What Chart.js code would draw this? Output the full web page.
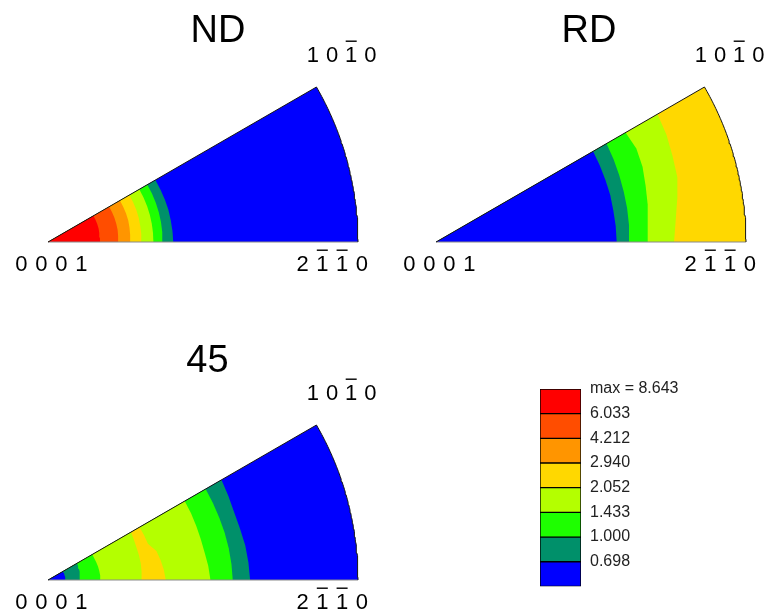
<!DOCTYPE html>
<html>
<head>
<meta charset="utf-8">
<title>Inverse pole figures</title>
<script src="https://cdn.jsdelivr.net/npm/chart.js@4.4.1/dist/chart.umd.min.js"></script>
<style>
  html, body { margin: 0; padding: 0; background: #fff; width: 767px; height: 611px; overflow: hidden; }
  canvas { position: absolute; }
</style>
</head>
<body>
<canvas id="ipfND" width="383" height="290" style="left:0px;top:0px"></canvas>
<canvas id="ipfRD" width="379" height="290" style="left:388px;top:0px"></canvas>
<canvas id="ipf45" width="383" height="290" style="left:0px;top:338px"></canvas>
<canvas id="scaleBar" width="247" height="235" style="left:520px;top:370px"></canvas>
<script>
// ---------------------------------------------------------------
// Data
// ---------------------------------------------------------------
// Density levels (multiples of random), lowest band first.
const levelLabels = ['0.698', '1.000', '1.433', '2.052', '2.940', '4.212', '6.033', 'max = 8.643'];

// Angles (deg, measured from the 2-1-10 edge) at which contour radii are sampled.
const sectorAngles = [0, 5, 10, 15, 20, 25, 30];

// Contour radii as fraction of the stereographic rim, outermost contour first.
// *InnerLevels: band index found inside each contour; *RimLevel: band at the rim.
const ndRimLevel = 0;
const ndInnerLevels = [1, 2, 3, 4, 5, 6, 7];
const ndContourRadii = [
  [0.404, 0.403, 0.402, 0.402, 0.401, 0.400, 0.400],
  [0.370, 0.370, 0.370, 0.370, 0.370, 0.370, 0.370],
  [0.340, 0.340, 0.340, 0.340, 0.340, 0.340, 0.340],
  [0.302, 0.302, 0.302, 0.303, 0.303, 0.303, 0.303],
  [0.265, 0.266, 0.267, 0.268, 0.268, 0.268, 0.268],
  [0.227, 0.227, 0.228, 0.228, 0.228, 0.228, 0.228],
  [0.168, 0.168, 0.168, 0.169, 0.169, 0.169, 0.169]
];

const rdRimLevel = 4;
const rdInnerLevels = [3, 2, 1, 0];
const rdContourRadii = [
  [0.768, 0.776, 0.790, 0.806, 0.812, 0.820, 0.825],
  [0.682, 0.686, 0.693, 0.700, 0.709, 0.713, 0.706],
  [0.625, 0.625, 0.626, 0.627, 0.629, 0.632, 0.635],
  [0.583, 0.582, 0.581, 0.582, 0.582, 0.583, 0.585]
];

const d45RimLevel = 0;
const d45InnerLevels = [1, 2, 3, 4, 3, 2, 1, 0];
const d45ContourRadii = [
  [0.652, 0.649, 0.646, 0.641, 0.639, 0.642, 0.646],
  [0.596, 0.594, 0.592, 0.590, 0.588, 0.587, 0.587],
  [0.524, 0.519, 0.513, 0.510, 0.509, 0.509, 0.509],
  [0.380, 0.375, 0.369, 0.362, 0.343, 0.342, 0.341],
  [0.303, 0.303, 0.304, 0.304, 0.304, 0.306, 0.309],
  [0.170, 0.169, 0.168, 0.167, 0.166, 0.165, 0.165],
  [0.102, 0.103, 0.104, 0.105, 0.106, 0.107, 0.108],
  [0.056, 0.056, 0.056, 0.056, 0.056, 0.056, 0.056]
];

const panelTitles = ['ND', 'RD', '45'];

// Miller-Bravais indices at the triangle corners; bars = positions carrying an overbar.
const poleBasal = { digits: ['0', '0', '0', '1'], bars: [] };
const poleA = { digits: ['2', '1', '1', '0'], bars: [1, 2] };
const poleM = { digits: ['1', '0', '1', '0'], bars: [2] };

// ---------------------------------------------------------------
// Styles and layout
// ---------------------------------------------------------------
const bandColors = ['#0000ff', '#00906a', '#1eff00', '#b4ff00', '#ffd800', '#ff9500', '#ff4d00', '#ff0000'];
const FONT = '"Liberation Sans", Arial, Helvetica, sans-serif';
const RIM_PX = 310;        // pixel radius of the 90° rim
const ORIGIN_PX = { x: 48, y: 242 };   // 0001 corner inside each panel canvas

// ---------------------------------------------------------------
// Geometry helpers
// ---------------------------------------------------------------
const toRad = d => d * Math.PI / 180;

function contourSector(radii) {
  const pts = [{ x: 0, y: 0 }];
  sectorAngles.forEach((a, i) => {
    pts.push({ x: radii[i] * Math.cos(toRad(a)), y: radii[i] * Math.sin(toRad(a)) });
  });
  pts.push({ x: 0, y: 0 });
  return pts;
}

function rimArc() {
  const pts = [];
  for (let a = 0; a <= 30.0001; a += 0.5) pts.push({ x: Math.cos(toRad(a)), y: Math.sin(toRad(a)) });
  return pts;
}

function fillDataset(points, level, order) {
  return {
    data: points,
    showLine: true,
    fill: 'shape',
    backgroundColor: bandColors[level],
    borderWidth: 0,
    borderColor: 'rgba(0,0,0,0)',
    pointRadius: 0,
    tension: 0,
    order: order
  };
}

function drawIndex(ctx, label, x0, baseline, pitch) {
  label.digits.forEach((d, i) => {
    const cx = x0 + i * pitch;
    ctx.fillText(d, cx, baseline);
    if (label.bars.includes(i)) {
      ctx.fillRect(cx - 5.5, baseline - 21.5, 11, 1.4);
    }
  });
}

function makePanel(canvasId, title, rimLevel, innerLevels, contours, titlePos) {
  const canvas = document.getElementById(canvasId);
  const W = canvas.width, H = canvas.height;

  const datasets = [];
  const n = contours.length;
  // outline: dark rim + 0001-10-10 edge, grey 0001-2-1-10 edge
  const outline = rimArc().concat([{ x: 0, y: 0 }]);
  datasets.push({
    data: outline, showLine: true, fill: false, borderColor: '#151515', borderWidth: 1,
    pointRadius: 0, tension: 0, order: 0
  });
  datasets.push({
    data: [{ x: 0, y: 0 }, { x: 1, y: 0 }], showLine: true, fill: false, borderColor: '#8a8a8a',
    borderWidth: 1, pointRadius: 0, tension: 0, order: 1
  });
  // full triangle in the rim band, then each contour painted on top, innermost last
  datasets.push(fillDataset([{ x: 0, y: 0 }].concat(rimArc(), [{ x: 0, y: 0 }]), rimLevel, n + 10));
  contours.forEach((radii, i) => {
    datasets.push(fillDataset(contourSector(radii), innerLevels[i], n + 9 - i));
  });

  const textPlugin = {
    id: 'ipfText',
    afterDatasetsDraw(chart) {
      const { ctx, scales: { x, y } } = chart;
      const ox = x.getPixelForValue(0);
      const oy = y.getPixelForValue(0);
      ctx.save();
      ctx.fillStyle = '#000';
      ctx.textAlign = 'center';
      ctx.textBaseline = 'alphabetic';
      ctx.font = '38px ' + FONT;
      ctx.fillText(title, ox + titlePos.dx, oy + titlePos.dy);
      ctx.font = '22px ' + FONT;
      drawIndex(ctx, poleBasal, ox - 26.7, oy + 28.8, 20);
      drawIndex(ctx, poleA, ox + 254.5, oy + 29, 19.8);
      drawIndex(ctx, poleM, ox + 264.8, oy - 180, 19.2);
      ctx.restore();
    }
  };

  return new Chart(canvas, {
    type: 'scatter',
    data: { datasets },
    options: {
      responsive: false,
      animation: false,
      events: [],
      layout: { padding: 0 },
      plugins: { legend: { display: false }, tooltip: { enabled: false }, title: { display: false } },
      scales: {
        x: { type: 'linear', display: false, min: -ORIGIN_PX.x / RIM_PX, max: (W - ORIGIN_PX.x) / RIM_PX },
        y: { type: 'linear', display: false, min: -(H - ORIGIN_PX.y) / RIM_PX, max: ORIGIN_PX.y / RIM_PX }
      }
    },
    plugins: [textPlugin]
  });
}

makePanel('ipfND', panelTitles[0], ndRimLevel, ndInnerLevels, ndContourRadii, { dx: 170, dy: -200 });
makePanel('ipfRD', panelTitles[1], rdRimLevel, rdInnerLevels, rdContourRadii, { dx: 153, dy: -200 });
makePanel('ipf45', panelTitles[2], d45RimLevel, d45InnerLevels, d45ContourRadii, { dx: 159.5, dy: -208.3 });

// ---------------------------------------------------------------
// Colour scale: one stacked column, one box per density band
// ---------------------------------------------------------------
new Chart(document.getElementById('scaleBar'), {
  type: 'bar',
  data: {
    labels: [''],
    datasets: bandColors.map(c => ({
      data: [1],
      backgroundColor: c,
      borderColor: '#000',
      borderWidth: 1,
      borderSkipped: false,
      barPercentage: 1,
      categoryPercentage: 1
    }))
  },
  options: {
    responsive: false,
    animation: false,
    events: [],
    layout: { padding: { left: 20, top: 19, bottom: 14, right: 0 } },
    plugins: { legend: { display: false }, tooltip: { enabled: false } },
    scales: {
      x: { stacked: true, display: false },
      y: {
        stacked: true,
        position: 'right',
        min: 0,
        max: levelLabels.length,
        grid: { display: false, drawTicks: false },
        border: { display: false },
        afterFit(scale) { scale.width = 186; },
        ticks: {
          stepSize: 1,
          autoSkip: false,
          padding: 9,
          color: '#222',
          font: { size: 16, family: FONT },
          callback: v => (v >= 1 ? levelLabels[v - 1] : '')
        }
      }
    }
  }
});
</script>
</body>
</html>
